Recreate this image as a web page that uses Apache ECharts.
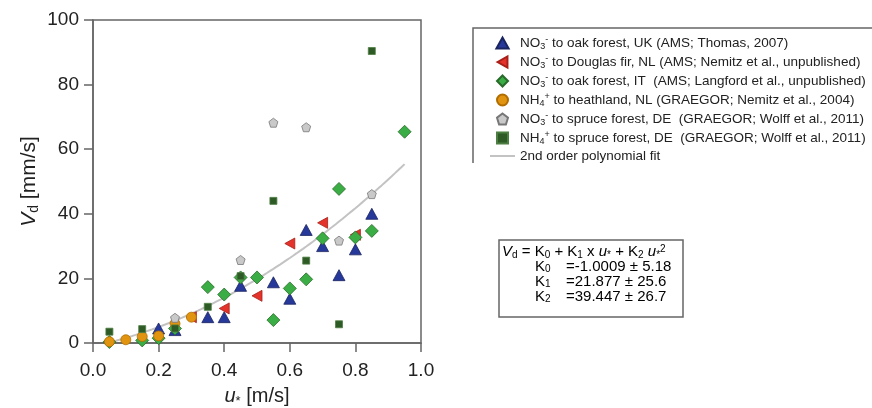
<!DOCTYPE html>
<html>
<head>
<meta charset="utf-8">
<script src="https://cdn.jsdelivr.net/npm/echarts@6/dist/echarts.min.js"></script>
<style>
  html, body { margin: 0; padding: 0; background: #fff; }
  #chart { width: 872px; height: 408px; }
</style>
</head>
<body>
<div id="chart"></div>
<script>
// u* [m/s], Vd [mm/s]
var no3OakUK = [[0.2, 4.5], [0.25, 4], [0.35, 8], [0.4, 8], [0.45, 17.7], [0.55, 18.8], [0.6, 13.7], [0.65, 35], [0.7, 30], [0.75, 21], [0.8, 29], [0.85, 40]];
var no3FirNL = [[0.3, 8], [0.4, 10.7], [0.5, 14.6], [0.6, 30.8], [0.7, 37.2], [0.8, 33.5]];
var no3OakIT = [[0.05, 0.3], [0.15, 0.8], [0.2, 1.5], [0.25, 4.5], [0.35, 17.3], [0.4, 15], [0.45, 20.3], [0.5, 20.3], [0.55, 7.1], [0.6, 16.9], [0.65, 19.7], [0.7, 32.4], [0.75, 47.7], [0.8, 32.7], [0.85, 34.7], [0.95, 65.4]];
var nh4HeathNL = [[0.05, 0.4], [0.1, 1], [0.15, 2], [0.2, 2.2], [0.25, 6], [0.3, 8]];
var no3SpruceDE = [[0.25, 7.8], [0.45, 25.7], [0.55, 68.2], [0.65, 66.8], [0.75, 31.7], [0.85, 46.1]];
var nh4SpruceDE = [[0.05, 3.5], [0.15, 4.3], [0.25, 4.5], [0.35, 11.2], [0.45, 20.7], [0.55, 44], [0.65, 25.5], [0.75, 5.8], [0.85, 90.4]];

// 2nd order fit Vd = K0 + K1 u* + K2 u*^2
var fitCoef = [-1.0009, 21.877, 39.447];
var fitErr = [5.18, 25.6, 26.7];
var fitRange = [0.05, 0.95];

var names = [
  'NO3- to oak forest, UK',
  'NO3- to Douglas fir, NL',
  'NO3- to oak forest, IT',
  'NH4+ to heathland, NL',
  'NO3- to spruce forest, DE',
  'NH4+ to spruce forest, DE',
  '2nd order polynomial fit'
];
var labels = [
  '{t|NO}{sub|3}{sup|-}{t| to oak forest, UK (AMS; Thomas, 2007)}',
  '{t|NO}{sub|3}{sup|-}{t| to Douglas fir, NL (AMS; Nemitz et al., unpublished)}',
  '{t|NO}{sub|3}{sup|-}{t| to oak forest, IT  (AMS; Langford et al., unpublished)}',
  '{t|NH}{sub|4}{sup|+}{t| to heathland, NL (GRAEGOR; Nemitz et al., 2004)}',
  '{t|NO}{sub|3}{sup|-}{t| to spruce forest, DE  (GRAEGOR; Wolff et al., 2011)}',
  '{t|NH}{sub|4}{sup|+}{t| to spruce forest, DE  (GRAEGOR; Wolff et al., 2011)}',
  '{t|2nd order polynomial fit}'
];

var fitLine = [];
for (var u = fitRange[0]; u <= fitRange[1] + 1e-9; u += 0.01) {
  fitLine.push([u, fitCoef[0] + fitCoef[1] * u + fitCoef[2] * u * u]);
}

var font = 'Liberation Sans, Arial, sans-serif';
function rich(fs, lh) {
  return {
    t: { fontSize: fs, lineHeight: lh, color: '#222', fontFamily: font },
    i: { fontSize: fs, lineHeight: lh, fontStyle: 'italic', color: '#222', fontFamily: font },
    sub: { fontSize: Math.round(fs * 0.65), verticalAlign: 'bottom', color: '#222', fontFamily: font },
    sup: { fontSize: Math.round(fs * 0.65), verticalAlign: 'top', color: '#222', fontFamily: font }
  };
}

var symTri = 'path://M5,0 L10,9 L0,9 Z';
var symLeft = 'path://M0,5 L9,0 L9,10 Z';
var symDia = 'path://M5,0 L10,5 L5,10 L0,5 Z';
var symPent = 'path://M5,0 L10,3.8 L8.1,10 L1.9,10 L0,3.8 Z';
var symSq = 'path://M0,0 L10,0 L10,10 L0,10 Z';

function sc(name, data, symbol, size, color, border) {
  return {
    name: name, type: 'scatter', data: data, symbol: symbol, symbolSize: size,
    itemStyle: { color: color, borderColor: border, borderWidth: 0.8, opacity: 1 }
  };
}

var chart = echarts.init(document.getElementById('chart'));
chart.setOption({
  animation: false,
  textStyle: { fontFamily: font },
  grid: {
    left: 93, right: 451, top: 20, bottom: 65, containLabel: false, outerBoundsMode: 'none',
    show: true, borderColor: '#666', borderWidth: 1.5
  },
  xAxis: {
    type: 'value', min: 0, max: 1, interval: 0.2,
    axisLine: { show: true, lineStyle: { color: '#666', width: 1.5 } },
    axisTick: { show: true, length: 9, lineStyle: { color: '#666', width: 1.5 } },
    splitLine: { show: false },
    axisLabel: { fontSize: 19, color: '#222', margin: 18, formatter: function (v) { return v.toFixed(1); } },
    name: '{i|u}{sub|*}{t| [m/s]}', nameLocation: 'middle', nameGap: 41,
    nameTextStyle: { rich: rich(20, 24) }
  },
  yAxis: {
    type: 'value', min: 0, max: 100, interval: 20,
    axisLine: { show: true, lineStyle: { color: '#666', width: 1.5 } },
    axisTick: { show: true, length: 9, lineStyle: { color: '#666', width: 1.5 } },
    splitLine: { show: false },
    axisLabel: { fontSize: 19, color: '#222', margin: 14 },
    name: '{i|V}{sub|d}{t| [mm/s]}', nameLocation: 'middle', nameGap: 52, nameRotate: 90,
    nameTextStyle: { rich: rich(21, 24) }
  },
  legend: {
    orient: 'vertical', left: 484, top: 30, itemWidth: 25, itemHeight: 11, itemGap: 3,
    symbolKeepAspect: true,
    data: names.slice(0, 6).concat([{ name: names[6], itemStyle: { opacity: 0 } }]),
    formatter: function (n) { return labels[names.indexOf(n)]; },
    textStyle: { rich: rich(13.5, 16) }
  },
  series: [
    sc(names[0], no3OakUK, symTri, [12, 11], '#26389a', '#1a2560'),
    sc(names[1], no3FirNL, symLeft, [10, 11], '#e4332b', '#a82018'),
    sc(names[2], no3OakIT, symDia, 13, '#3aae45', '#2a6a2a'),
    sc(names[3], nh4HeathNL, 'circle', 10, '#e0940f', '#b06d00'),
    sc(names[4], no3SpruceDE, symPent, 9, '#c9c9c9', '#777'),
    sc(names[5], nh4SpruceDE, symSq, 7, '#2e5a26', '#4e7f42'),
    {
      name: names[6], type: 'line', data: fitLine, symbol: 'none', showSymbol: false, z: 1,
      lineStyle: { color: '#c3c3c3', width: 2 }, itemStyle: { color: '#c3c3c3' }
    }
  ],
  graphic: [
    { type: 'polyline', shape: { points: [[873, 28], [473, 28], [473, 163]] }, style: { stroke: '#666', lineWidth: 1.5, fill: null }, z: -1 },
    { type: 'rect', shape: { x: 499, y: 240, width: 184, height: 77 }, style: { fill: '#fff', stroke: '#666', lineWidth: 1.5 } },
    { type: 'text', left: 502, top: 244, style: { text: '{i|V}{sub|d}{t| = K}{sub|0}{t| + K}{sub|1}{t| x }{i|u}{sub|*}{t| + K}{sub|2}{t| }{i|u}{sub|*}{sup|2}', rich: rich(15, 16) } },
    { type: 'text', left: 535, top: 259, style: { text: '{t|K}{sub|0}', rich: rich(15, 16) } },
    { type: 'text', left: 535, top: 274, style: { text: '{t|K}{sub|1}', rich: rich(15, 16) } },
    { type: 'text', left: 535, top: 289, style: { text: '{t|K}{sub|2}', rich: rich(15, 16) } },
    { type: 'text', left: 566, top: 259, style: { text: '{t|=' + fitCoef[0] + ' \u00b1 ' + fitErr[0] + '}', rich: rich(15, 16) } },
    { type: 'text', left: 566, top: 274, style: { text: '{t|=' + fitCoef[1] + ' \u00b1 ' + fitErr[1] + '}', rich: rich(15, 16) } },
    { type: 'text', left: 566, top: 289, style: { text: '{t|=' + fitCoef[2] + ' \u00b1 ' + fitErr[2] + '}', rich: rich(15, 16) } }
  ]
});
</script>
</body>
</html>
